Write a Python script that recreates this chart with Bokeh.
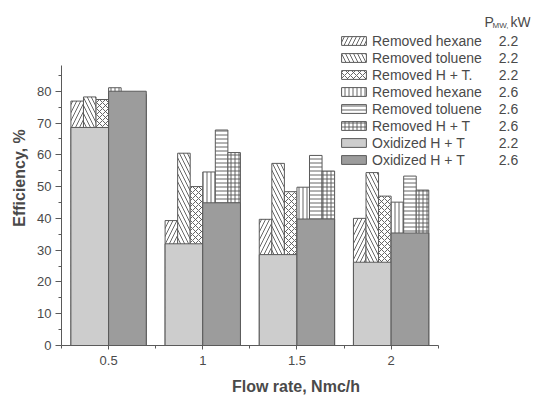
from bokeh.plotting import figure
from bokeh.models import Range1d, FixedTicker, Legend, LegendItem, Label
from bokeh.embed import file_html
from bokeh.resources import INLINE

# ---- data ----
flow = [0.5, 1.0, 1.5, 2.0]
flow_labels = ["0.5", "1", "1.5", "2"]
oxidized_22 = [68.6, 32.0, 28.6, 26.2]
oxidized_26 = [80.0, 44.9, 39.8, 35.4]
removed_hexane_22 = [76.9, 39.3, 39.7, 40.0]
removed_toluene_22 = [78.2, 60.5, 57.3, 54.4]
removed_ht_22 = [77.4, 50.0, 48.4, 47.0]
removed_hexane_26 = [81.1, 54.6, 49.8, 45.1]
removed_toluene_26 = [79.5, 67.8, 59.8, 53.3]
removed_ht_26 = [79.0, 60.7, 54.9, 48.9]
power = ["2.2", "2.2", "2.2", "2.6", "2.6", "2.6", "2.2", "2.6"]
series_names = ["Removed hexane", "Removed toluene", "Removed H + T.",
                "Removed hexane", "Removed toluene", "Removed H + T",
                "Oxidized H + T", "Oxidized H + T"]

FONT = "Liberation Sans"
TXT = "#4a4a4a"
LINE = "#5a5a5a"

p = figure(width=536, height=397, output_backend="svg", toolbar_location=None,
           x_range=Range1d(0.25, 2.74), y_range=Range1d(0, 105.4),
           min_border_left=61, min_border_right=6, min_border_top=10,
           min_border_bottom=51)
p.outline_line_color = None
p.xgrid.visible = False
p.ygrid.visible = False
p.background_fill_color = "white"
p.border_fill_color = "white"

wide = 0.2
narrow = wide / 3.0

def shift(vals, d):
    return [v + d for v in vals]

hatch_specs = [
    (removed_hexane_22, -wide + 0.5 * narrow, "/", 8),
    (removed_toluene_22, -wide + 1.5 * narrow, "\\", 8),
    (removed_ht_22, -wide + 2.5 * narrow, "x", 6),
    (removed_hexane_26, 0.5 * narrow, "|", 4),
    (removed_toluene_26, 1.5 * narrow, "-", 4),
    (removed_ht_26, 2.5 * narrow, "+", 4),
]
renderers = []
for vals, dx, pat, sc in hatch_specs:
    r = p.vbar(x=shift(flow, dx), width=narrow, bottom=0, top=vals,
               fill_color="white", line_color=LINE, line_width=1,
               hatch_pattern=pat, hatch_color="#555555", hatch_scale=sc,
               hatch_weight=0.9)
    renderers.append(r)

r_ox22 = p.vbar(x=shift(flow, -wide / 2), width=wide, bottom=0, top=oxidized_22,
                fill_color="#cdcdcd", line_color=LINE, line_width=1)
r_ox26 = p.vbar(x=shift(flow, wide / 2), width=wide, bottom=0, top=oxidized_26,
                fill_color="#9c9c9c", line_color=LINE, line_width=1)
renderers += [r_ox22, r_ox26]

# axes
xa = p.xaxis[0]
xa.bounds = (0.25, 2.25)
xa.ticker = FixedTicker(ticks=flow, minor_ticks=[0.25, 0.75, 1.25, 1.75, 2.25])
xa.major_label_overrides = {f: l for f, l in zip(flow, flow_labels)}
xa.axis_label = "Flow rate, Nmc/h"

ya = p.yaxis[0]
ya.bounds = (0, 88)
ya.ticker = FixedTicker(ticks=list(range(0, 81, 10)), minor_ticks=list(range(0, 89, 5)))
ya.axis_label = "Efficiency, %"

for ax in (xa, ya):
    ax.axis_line_color = LINE
    ax.major_tick_line_color = LINE
    ax.minor_tick_line_color = LINE
    ax.major_tick_in = 0
    ax.minor_tick_in = 0
    ax.major_label_text_font = FONT
    ax.major_label_text_font_size = "13px"
    ax.major_label_text_color = TXT
    ax.axis_label_text_font = FONT
    ax.axis_label_text_font_size = "16px"
    ax.axis_label_text_font_style = "bold"
    ax.axis_label_text_color = TXT
xa.major_tick_out = 4
xa.minor_tick_out = 3
ya.major_tick_out = 6
ya.minor_tick_out = 3
xa.major_label_standoff = 6
xa.axis_label_standoff = 10
ya.major_label_standoff = 4
ya.axis_label_standoff = 6

ROW = 17
legend = Legend(items=[LegendItem(label=n, renderers=[r]) for n, r in zip(series_names, renderers)],
                location=(277, 177), orientation="vertical",
                label_text_font=FONT, label_text_font_size="14px",
                label_text_color=TXT, glyph_width=31, glyph_height=11,
                label_height=ROW, label_standoff=3, spacing=0, padding=0,
                margin=0, border_line_color=None, background_fill_alpha=0)
p.add_layout(legend, "center")

# power column (frame-relative screen units; frame bottom at canvas y=346)
for i, pw in enumerate(power):
    p.add_layout(Label(x=447, y=346 - 41.2 - i * ROW, x_units="screen", y_units="screen",
                       text=pw, text_font=FONT, text_font_size="14px", text_color=TXT,
                       text_baseline="middle", text_align="center"))

p.add_layout(Label(x=423, y=346 - 22, x_units="screen", y_units="screen", text="P",
                   text_font=FONT, text_font_size="14px", text_color=TXT,
                   text_baseline="middle", text_align="left"))
p.add_layout(Label(x=431, y=346 - 26, x_units="screen", y_units="screen", text="MW,",
                   text_font=FONT, text_font_size="8px", text_color=TXT,
                   text_baseline="middle", text_align="left"))
p.add_layout(Label(x=449, y=346 - 22, x_units="screen", y_units="screen", text="kW",
                   text_font=FONT, text_font_size="14px", text_color=TXT,
                   text_baseline="middle", text_align="left"))

open("out.html", "w").write(file_html(p, INLINE))
